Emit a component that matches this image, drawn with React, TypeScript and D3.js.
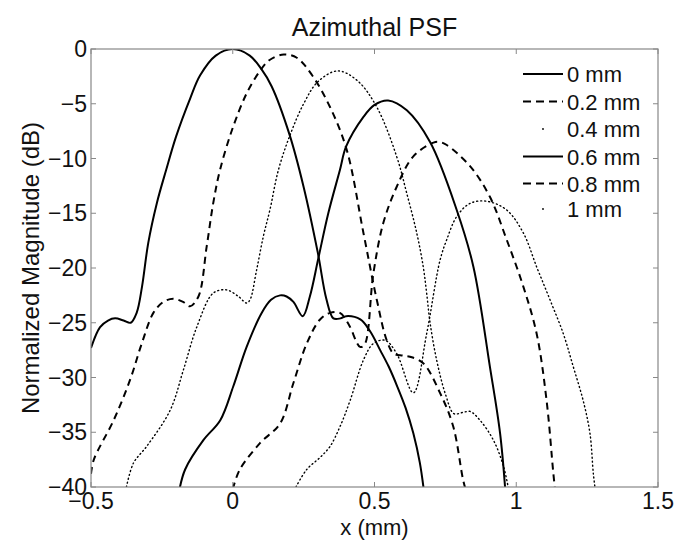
import React from "react";
import * as d3 from "d3";

const title = "Azimuthal PSF";
const xLabel = "x (mm)";
const yLabel = "Normalized Magnitude (dB)";
const xTicks = [-0.5, 0, 0.5, 1, 1.5];
const yTicks = [0, -5, -10, -15, -20, -25, -30, -35, -40];

const seriesNames = ["0 mm", "0.2 mm", "0.4 mm", "0.6 mm", "0.8 mm", "1 mm"];
const seriesStyles = ["solid", "dashed", "dotted", "solid", "dashed", "dotted"];

const x0 = [-0.5, -0.468, -0.44, -0.415, -0.385, -0.36, -0.339, -0.32, -0.298, -0.268, -0.235, -0.2, -0.15, -0.115, -0.06, 0, 0.06, 0.1, 0.137, 0.2, 0.25, 0.3, 0.33, 0.355, 0.38, 0.4, 0.45, 0.485, 0.52, 0.55, 0.58, 0.61, 0.637, 0.66, 0.675];
const y0 = [-27.3, -25.4, -24.8, -24.6, -24.8, -25.0, -24.1, -21.7, -17.7, -14.1, -11.05, -8.0, -4.5, -2.4, -0.6, 0, -0.6, -1.8, -3.4, -7.8, -12.6, -18.6, -22.8, -24.6, -24.6, -24.4, -24.7, -25.8, -27.5, -29.0, -30.8, -32.8, -35.1, -37.8, -40.5];

const x02 = [-0.5, -0.49, -0.42, -0.362, -0.321, -0.28, -0.245, -0.21, -0.175, -0.151, -0.121, -0.092, -0.069, -0.045, 0, 0.05, 0.096, 0.13, 0.18, 0.226, 0.28, 0.343, 0.402, 0.461, 0.508, 0.543, 0.567, 0.6, 0.625, 0.672, 0.731, 0.778, 0.813, 0.83];
const y02 = [-38.8, -37.5, -33.9, -30.2, -26.9, -24.1, -23.1, -22.8, -23.1, -23.5, -22.6, -18.05, -14.1, -11.05, -7.2, -4.0, -2.0, -1.0, -0.5, -0.8, -2.4, -5.3, -9.2, -16.8, -22.9, -26.6, -27.8, -28.0, -28.1, -28.7, -31.4, -34.5, -39.4, -41];

const x04 = [-0.375, -0.35, -0.304, -0.221, -0.174, -0.127, -0.069, -0.022, 0.02, 0.049, 0.061, 0.084, 0.108, 0.131, 0.161, 0.2, 0.25, 0.3, 0.37, 0.44, 0.508, 0.578, 0.614, 0.649, 0.672, 0.684, 0.696, 0.72, 0.75, 0.78, 0.81, 0.837, 0.872, 0.919, 0.955, 0.975];
const y04 = [-40, -37.8, -36.3, -33.0, -29.3, -25.4, -22.3, -22.0, -22.6, -23.2, -22.9, -20.2, -17.1, -14.7, -11.05, -8.0, -5.0, -3.0, -2.0, -2.9, -5.3, -9.8, -13.2, -16.8, -19.9, -22.3, -25.0, -28.5, -31.5, -33.3, -33.2, -33.1, -33.9, -35.7, -38.1, -40.5];

const x06 = [-0.19, -0.168, -0.103, -0.044, 0.002, 0.049, 0.102, 0.135, 0.167, 0.19, 0.214, 0.247, 0.272, 0.302, 0.337, 0.378, 0.4, 0.461, 0.5, 0.548, 0.614, 0.696, 0.79, 0.849, 0.907, 0.943, 0.962];
const y06 = [-40.5, -38.4, -35.7, -33.9, -30.8, -27.2, -24.1, -22.9, -22.5, -22.6, -23.1, -24.4, -22.6, -19.1, -15.0, -11.05, -8.9, -6.2, -5.1, -4.7, -5.6, -8.5, -14.7, -19.9, -29.0, -35.1, -40.5];

const x08 = [0.0, 0.025, 0.096, 0.167, 0.214, 0.261, 0.308, 0.343, 0.378, 0.41, 0.449, 0.465, 0.496, 0.531, 0.578, 0.637, 0.708, 0.73, 0.755, 0.837, 0.907, 0.966, 1.025, 1.072, 1.107, 1.131, 1.14];
const y08 = [-40.2, -38.4, -36.0, -34.2, -30.5, -26.9, -24.7, -24.1, -24.1, -25.2, -27.2, -27.0, -20.5, -15.9, -12.6, -9.8, -8.55, -8.5, -8.77, -10.7, -13.5, -17.4, -21.7, -26.0, -32.1, -38.8, -41];

const x10 = [0.223, 0.261, 0.308, 0.343, 0.378, 0.414, 0.461, 0.496, 0.537, 0.578, 0.637, 0.684, 0.731, 0.755, 0.79, 0.837, 0.895, 0.966, 1.025, 1.072, 1.119, 1.166, 1.201, 1.236, 1.26, 1.272, 1.28];
const y10 = [-40, -38.4, -37.3, -36.3, -34.5, -32.1, -28.4, -26.9, -26.6, -27.8, -31.4, -26.0, -19.3, -17.4, -15.3, -14.1, -13.9, -14.7, -16.8, -19.9, -22.9, -26.0, -29.0, -32.1, -35.1, -38.8, -40.5];

const seriesX = [x0, x02, x04, x06, x08, x10];
const seriesY = [y0, y02, y04, y06, y08, y10];

const W = 678, H = 547;
const left = 91, right = 658, top = 49, bottom = 487;
const FONT = "'Liberation Sans', Arial, sans-serif";

function dashFor(s: string) {
  if (s === "dashed") return "7 5";
  if (s === "dotted") return "1 3";
  return undefined;
}

export default function App() {
  const xs = d3.scaleLinear().domain([-0.5, 1.5]).range([left, right]);
  const ys = d3.scaleLinear().domain([-40, 0]).range([bottom, top]);
  const line = d3
    .line<[number, number]>()
    .x((d) => xs(d[0]))
    .y((d) => ys(d[1]))
    .curve(d3.curveCatmullRom.alpha(0.5));
  const fmt = (v: number) => (v < 0 ? "\u2212" + Math.abs(v) : String(v));
  const legendY = [74, 101.5, 129, 156.5, 183.5, 209];
  const tickFs = 23;
  return (
    <svg width={W} height={H} style={{ position: "absolute", left: 0, top: 0, background: "#fff" }} fontFamily={FONT}>
      <defs>
        <clipPath id="plotclip">
          <rect x={left} y={top} width={right - left} height={bottom - top} />
        </clipPath>
      </defs>
      <rect x={0} y={0} width={W} height={H} fill="#fff" />
      <g clipPath="url(#plotclip)">
        {seriesX.map((xa, i) => {
          const pts = xa.map((xv, j) => [xv, seriesY[i][j]] as [number, number]);
          const st = seriesStyles[i];
          return (
            <path
              key={i}
              d={line(pts) || ""}
              fill="none"
              stroke="#000"
              strokeWidth={st === "dotted" ? 1.4 : 2}
              strokeDasharray={dashFor(st)}
              strokeLinecap={st === "dotted" ? "round" : "butt"}
            />
          );
        })}
      </g>
      <rect x={left} y={top} width={right - left} height={bottom - top} fill="none" stroke="#888" strokeWidth={1.2} />
      {xTicks.map((t) => (
        <g key={"xt" + t}>
          <line x1={xs(t)} x2={xs(t)} y1={bottom} y2={bottom - 5} stroke="#888" />
          <line x1={xs(t)} x2={xs(t)} y1={top} y2={top + 5} stroke="#888" />
          <text x={xs(t)} y={bottom + 22} textAnchor="middle" fontSize={tickFs} fill="#111">
            {fmt(t)}
          </text>
        </g>
      ))}
      {yTicks.map((t) => (
        <g key={"yt" + t}>
          <line x1={left} x2={left + 5} y1={ys(t)} y2={ys(t)} stroke="#888" />
          <line x1={right} x2={right - 5} y1={ys(t)} y2={ys(t)} stroke="#888" />
          <text x={left - 4} y={ys(t) + 8} textAnchor="end" fontSize={tickFs} fill="#111">
            {fmt(t)}
          </text>
        </g>
      ))}
      <text x={(left + right) / 2} y={36} textAnchor="middle" fontSize={25} fill="#111">
        {title}
      </text>
      <text x={(left + right) / 2} y={535} textAnchor="middle" fontSize={22} fill="#111">
        {xLabel}
      </text>
      <text
        transform={`translate(39, ${(top + bottom) / 2}) rotate(-90)`}
        textAnchor="middle"
        fontSize={24}
        fill="#111"
      >
        {yLabel}
      </text>
      {seriesNames.map((n, i) => {
        const st = seriesStyles[i];
        const yy = legendY[i];
        return (
          <g key={"lg" + i}>
            {st === "dotted" ? (
              <circle cx={543} cy={yy} r={0.9} fill="#000" />
            ) : (
              <line x1={523} x2={563} y1={yy} y2={yy} stroke="#000" strokeWidth={2} strokeDasharray={st === "dashed" ? "8 5" : undefined} />
            )}
            <text x={567} y={yy + 8} fontSize={22} fill="#111">
              {n}
            </text>
          </g>
        );
      })}
    </svg>
  );
}
